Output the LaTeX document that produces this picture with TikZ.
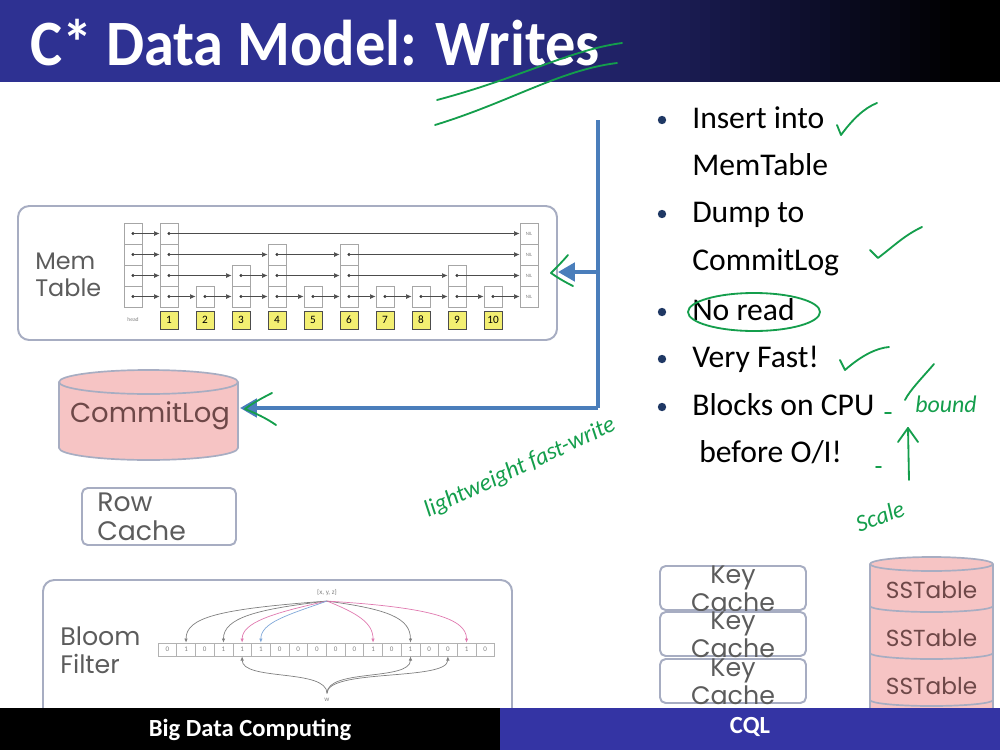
\documentclass[tikz,border=0pt]{standalone}
\usepackage{fontspec}
\setmainfont{Carlito}
\newfontfamily\gothic{Poppins}
\usetikzlibrary{arrows.meta,positioning,fit,calc}

\definecolor{titleblue}{HTML}{2E3192}
\definecolor{footblue}{HTML}{3434A4}
\definecolor{frame}{HTML}{A7ADC2}
\definecolor{drumfill}{HTML}{F6C4C4}
\definecolor{drumtext}{HTML}{6E4848}
\definecolor{labgray}{HTML}{5C5C5C}
\definecolor{flowblue}{HTML}{4A7EBB}
\definecolor{pen}{HTML}{149E4C}
\definecolor{dotblue}{HTML}{1F3864}
\definecolor{keyyellow}{HTML}{F3EF72}
\definecolor{hashblue}{HTML}{7FA7D8}
\definecolor{hashpink}{HTML}{E07AB0}

\begin{document}
\begin{tikzpicture}[x=0.025cm, y=-0.025cm,
  frame/.style={draw=frame, line width=1.4pt, rounded corners=8pt, inner sep=0pt},
  lab/.style={font=\gothic\fontsize{17}{19.5}\selectfont, text=labgray, align=left, inner sep=0pt},
  drumlab/.style={font=\gothic\fontsize{16.5}{19}\selectfont, text=drumtext, inner sep=0pt},
  drum/.style={draw=frame, line width=1.2pt, fill=drumfill},
  cell/.style={draw=gray!70, fill=white, minimum width=0.45cm, minimum height=0.525cm,
               inner sep=0pt, line width=0.5pt},
  key/.style={draw=gray!60!black, fill=keyyellow, minimum width=0.45cm, minimum height=0.45cm,
              inner sep=0pt, line width=0.5pt, font=\fontsize{8}{9}\selectfont},
  ptr/.style={draw=gray!60!black, line width=0.5pt, -{Latex[length=4pt,width=3.5pt]}},
  bit/.style={draw=gray!60, minimum width=0.4675cm, minimum height=0.325cm, inner sep=0pt,
              line width=0.4pt, font=\fontsize{5}{6}\selectfont, text=gray},
  hash/.style={line width=0.5pt, -{Latex[length=3pt,width=2.5pt]}},
  flow/.style={draw=flowblue, line width=2.8pt, -{Triangle[length=12pt,width=13pt]}},
  point/.style={font=\fontsize{22.5}{26}\selectfont, anchor=base west, inner sep=0pt},
  pen/.style={draw=pen, line width=1.3pt, line cap=round, line join=round},
  scrawl/.style={font=\itshape\fontsize{17}{19}\selectfont, text=pen, inner sep=0pt},
  foot/.style={text=white, font=\bfseries\fontsize{17.5}{20}\selectfont}]

\useasboundingbox (0,0) rectangle (1000,750);

% title bar
\foreach \k in {0,...,99} {
  \pgfmathtruncatemacro\pct{min(100,max(0,(950-10*\k)/4.8))}
  \fill[titleblue!\pct!black] (10*\k,0) rectangle (10*\k+10.6,82);
}
\node[anchor=base west, text=white, inner sep=0pt,
      font=\bfseries\fontsize{46}{50}\selectfont] (title) at (30,65)
      {\scalebox{0.935}[1]{C* Data Model: Writes}};

% mem table
\node[frame, fit={(18,206) (557,340)}] (mem) {};
\node[lab, anchor=west] (memlab) at (35,275) {Mem\\Table};
\foreach \i/\xc/\h in {0/133/4,1/169/4,2/205/1,3/241/2,4/277/3,5/313/1,
                       6/349/3,7/385/1,8/421/1,9/457/2,10/493/1,11/529/4}
  \foreach \l in {1,...,\h} {
    \node[cell] (c\i-\l) at (\xc,317.5-21*\l) {};
    \ifnum\i<11
      \fill[black!80] (c\i-\l.center) circle (1.6);
    \else
      \node[font=\fontsize{3.5}{4}\selectfont, text=gray] at (c\i-\l) {NIL};
    \fi
  }
\foreach \l/\seq in {1/{1,2,3,4,5,6,7,8,9,10,11},2/{1,3,4,6,9,11},3/{1,4,6,11},4/{1,11}}
  \foreach \c [remember=\c as \p (initially 0)] in \seq
    \draw[ptr] (c\p-\l.center) -- (c\c-\l.west);
\foreach \i/\xc in {1/169,2/205,3/241,4/277,5/313,6/349,7/385,8/421,9/457,10/493}
  \node[key] (k\i) at (\xc,320) {\i};
\node[font=\fontsize{4}{5}\selectfont, text=gray] (headlab) at (133,320) {head};

% commit log
\draw[drum] (59,382) -- (59,448) arc[start angle=180, end angle=0, x radius=89.5, y radius=12]
  -- (238,382);
\draw[drum] (148.5,382) ellipse[x radius=89.5, y radius=12];
\node[drumlab, font=\gothic\fontsize{19.5}{22}\selectfont] (log) at (150,416) {CommitLog};
\coordinate (logeast) at (240,408);

% row cache
\node[frame, rounded corners=4pt, fit={(82,488) (236,545)}] (row) {};
\node[lab, font=\gothic\fontsize{19}{20.5}\selectfont, anchor=north west] (rowlab) at (97,493)
  {Row\\Cache};

% bloom filter
\node[frame, fit={(43,580) (512,740)}] (bloom) {};
\node[lab, font=\gothic\fontsize{18}{20}\selectfont, anchor=west] (bloomlab) at (60,650)
  {Bloom\\Filter};
\foreach \b [count=\i from 0] in {0,1,0,1,1,1,0,0,0,0,0,1,0,1,0,0,1,0}
  \node[bit] (b\i) at ({158+18.7*(\i+0.5)},649.5) {\b};
\node[font=\fontsize{5}{6}\selectfont, text=gray] (xyz) at (327,593) {\{x, y, z\}};
\draw[hash, gray] (xyz.south) .. controls +(-110,8) and +(0,-25) .. (b1.north);
\draw[hash, gray] (xyz.south) .. controls +(-70,8) and +(0,-25) .. (b3.north);
\draw[hash, hashpink] (xyz.south) .. controls +(-55,12) and +(0,-20) .. (b4.north);
\draw[hash, hashblue] (xyz.south) .. controls +(-40,14) and +(0,-20) .. (b5.north);
\draw[hash, hashpink] (xyz.south) .. controls +(30,12) and +(0,-20) .. (b11.north);
\draw[hash, gray] (xyz.south) .. controls +(60,8) and +(0,-25) .. (b13.north);
\draw[hash, hashpink] (xyz.south) .. controls +(100,6) and +(0,-25) .. (b16.north);
\node[font=\fontsize{5}{6}\selectfont, text=gray] (w) at (327,700) {w};
\draw[hash, gray] (w.north) .. controls +(0,-25) and +(0,25) .. (b4.south);
\draw[hash, gray] (w.north) .. controls +(0,-25) and +(0,25) .. (b13.south);
\draw[hash, gray] (w.north) .. controls +(0,-25) and +(0,25) .. (b15.south);

% key cache
\foreach \y [count=\n] in {566,612,659} {
  \node[frame, fill=white, rounded corners=4pt, fit={(660,\y) (806,\y+44)}] (kc\n) {};
  \node[lab, font=\gothic\fontsize{18}{19.5}\selectfont, align=center, anchor=north]
    (kclab\n) at (733,\y) {Key\\Cache};
}

% sstables
\fill[drumfill] (870,564) rectangle (993,720);
\draw[frame, line width=1.2pt] (870,564) -- (870,720) (993,564) -- (993,720);
\foreach \yb/\yc [count=\n] in {606/590,653/638,700/686} {
  \draw[drum, fill=none] (870,\yb) arc[start angle=180, end angle=0, x radius=61.5, y radius=6];
  \node[drumlab] (ss\n) at (931.5,\yc) {SSTable};
}
\draw[drum] (931.5,564) ellipse[x radius=61.5, y radius=7];

% write path
\coordinate (feed) at (598,120);
\coordinate (bend) at (598,408);
\coordinate (tap) at (598,272);
\draw[flow, -] (feed) -- (bend);
\draw[flow] (bend) -- (logeast);
\draw[flow] (tap) -- (tap -| mem.east);

% points
\foreach \yb in {128,222,320,367,415}
  \fill[dotblue] (662,\yb-8) circle (4.2);
\node[point] (p1) at (692,128) {Insert into};
\node[point] (p1b) at (692,175) {MemTable};
\node[point] (p2) at (692,222) {Dump to};
\node[point] (p2b) at (692,270) {CommitLog};
\node[point] (p3) at (692,320) {No read};
\node[point] (p4) at (692,367) {Very Fast!};
\node[point] (p5) at (692,415) {Blocks on CPU};
\node[point] (p5b) at (699,462) {before O/I!};

% pen marks
\draw[pen] (437,100) .. controls (520,78) and (570,50) .. (622,43);
\draw[pen] (435,125) .. controls (510,102) and (560,70) .. (617,63);
\draw[pen] (272,393) .. controls (258,400) and (250,405) .. (245,409)
  .. controls (255,413) and (266,418) .. (276,425);
\draw[pen] (568,255) .. controls (562,262) and (556,268) .. (551,273)
  .. controls (558,278) and (565,282) .. (573,286);
\draw[pen] (837,125) -- (841,135) .. controls (852,120) and (864,108) .. (877,103);
\draw[pen] (870,250) -- (878,258) .. controls (895,245) and (905,235) .. (922,227);
\draw[pen] (754,312) ellipse[x radius=66, y radius=19];
\draw[pen] (840,360) -- (845,370) .. controls (862,355) and (877,348) .. (889,347);
\draw[pen] (934,364) .. controls (922,378) and (910,390) .. (905,400);
\draw[pen] (885,413) -- (891,413);
\draw[pen] (876,467) -- (881,467);
\draw[pen] (909,480) -- (908,428);
\draw[pen] (898,442) -- (908,428) -- (918,442);
\node[scrawl] (bound) at (946,404) {bound};
\node[scrawl, rotate=20] (scale) at (880,516) {Scale};
\node[scrawl, rotate=25] (light) at (520,468) {lightweight fast-write};

% footer
\fill[black] (0,708) rectangle (500,750);
\fill[footblue] (500,708) rectangle (1000,750);
\node[foot] (course) at (250,730) {Big Data Computing};
\node[foot] (topic) at (750,727) {CQL};
\end{tikzpicture}
\end{document}
